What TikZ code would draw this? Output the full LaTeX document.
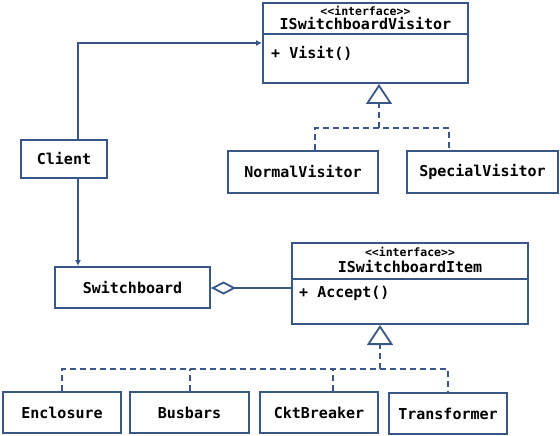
\documentclass[tikz,border=0pt]{standalone}
\usepackage{fontspec}
\setmonofont{DejaVu Sans Mono}
\usetikzlibrary{arrows.meta}
\definecolor{umlblue}{RGB}{56,86,135}
\begin{document}
\begin{tikzpicture}[x=1pt,y=-1pt,
  box/.style={draw=umlblue,line width=2pt,inner sep=0pt,
    font=\ttfamily\bfseries\fontsize{15}{18}\selectfont},
  txt/.style={inner sep=0pt,font=\ttfamily\bfseries\fontsize{15}{18}\selectfont},
  stereo/.style={inner sep=0pt,font=\ttfamily\bfseries\fontsize{11.5}{13}\selectfont},
  assoc/.style={draw=umlblue,line width=1.8pt,-{Latex[length=6pt,width=6pt]}},
  agg/.style={draw=umlblue,line width=1.8pt,-{Diamond[open,length=25pt,width=13pt]}},
  dline/.style={draw=umlblue,line width=1.8pt,dash pattern=on 6pt off 4pt},
  real/.style={draw=umlblue,line width=1.8pt,dash pattern=on 6pt off 4pt,
    -{Triangle[open,length=20pt,width=26pt]}}]
\useasboundingbox (0,0) rectangle (560,436);

% interface IVisitor
\node[box,minimum width=205,minimum height=80] (iv) at (365.5,43) {};
\node[stereo] (ivs) at (365.5,11) {<\kern0pt<interface>\kern0pt>};
\node[txt] (ivt) at (365.5,24) {ISwitchboardVisitor};
\coordinate (ivd) at (0,34);
\draw[umlblue,line width=2pt] (iv.west |- ivd) -- (iv.east |- ivd);
\node[txt,anchor=west] (ivm) at (271,53) {+ Visit()};

% interface IItem
\node[box,minimum width=236,minimum height=81] (ii) at (410,283.5) {};
\node[stereo] (iis) at (410,252) {<\kern0pt<interface>\kern0pt>};
\node[txt] (iit) at (410,267) {ISwitchboardItem};
\coordinate (iid) at (0,279);
\draw[umlblue,line width=2pt] (ii.west |- iid) -- (ii.east |- iid);
\node[txt,anchor=west] (iim) at (299,293) {+ Accept()};

% classes
\node[box,minimum width=86,minimum height=38] (cl) at (64,159) {Client};
\node[box,minimum width=155,minimum height=41] (sw) at (132.5,287.5) {Switchboard};
\node[box,minimum width=150,minimum height=42] (nv) at (303,172) {NormalVisitor};
\node[box,minimum width=151,minimum height=42] (sv) at (482.5,172) {SpecialVisitor};
\node[box,minimum width=118,minimum height=41] (en) at (62,412.5) {Enclosure};
\node[box,minimum width=119,minimum height=41] (bb) at (189.5,412.5) {Busbars};
\node[box,minimum width=118,minimum height=41] (ck) at (319,412.5) {CktBreaker};
\node[box,minimum width=118,minimum height=41] (tr) at (448,413.5) {Transformer};

% helper coordinates
\coordinate (c1) at (78,43);
\coordinate (jv) at (379,128);
\coordinate (dn) at (315,0);
\coordinate (ds) at (449,0);
\coordinate (ji) at (380,369);
\coordinate (dc) at (333,0);
\coordinate (db) at (190,0);
\coordinate (ag) at (0,288);

% associations
\draw[assoc] (cl.north -| c1) |- (iv.west |- c1);
\draw[assoc] (cl.south -| c1) -- (sw.north -| c1);
\draw[agg] (ii.west |- ag) -- (sw.east |- ag);

% realizations (visitors)
\draw[real] (jv) -- (jv |- iv.south);
\draw[dline] (nv.north -| dn) |- (ds |- jv) -- (sv.north -| ds);

% realizations (items)
\draw[real] (ji) -- (ji |- ii.south);
\draw[dline] (en.north) |- (tr.north |- ji) -- (tr.north);
\draw[dline] (bb.north -| db) -- (db |- ji);
\draw[dline] (ck.north -| dc) -- (dc |- ji);
\end{tikzpicture}
\end{document}
